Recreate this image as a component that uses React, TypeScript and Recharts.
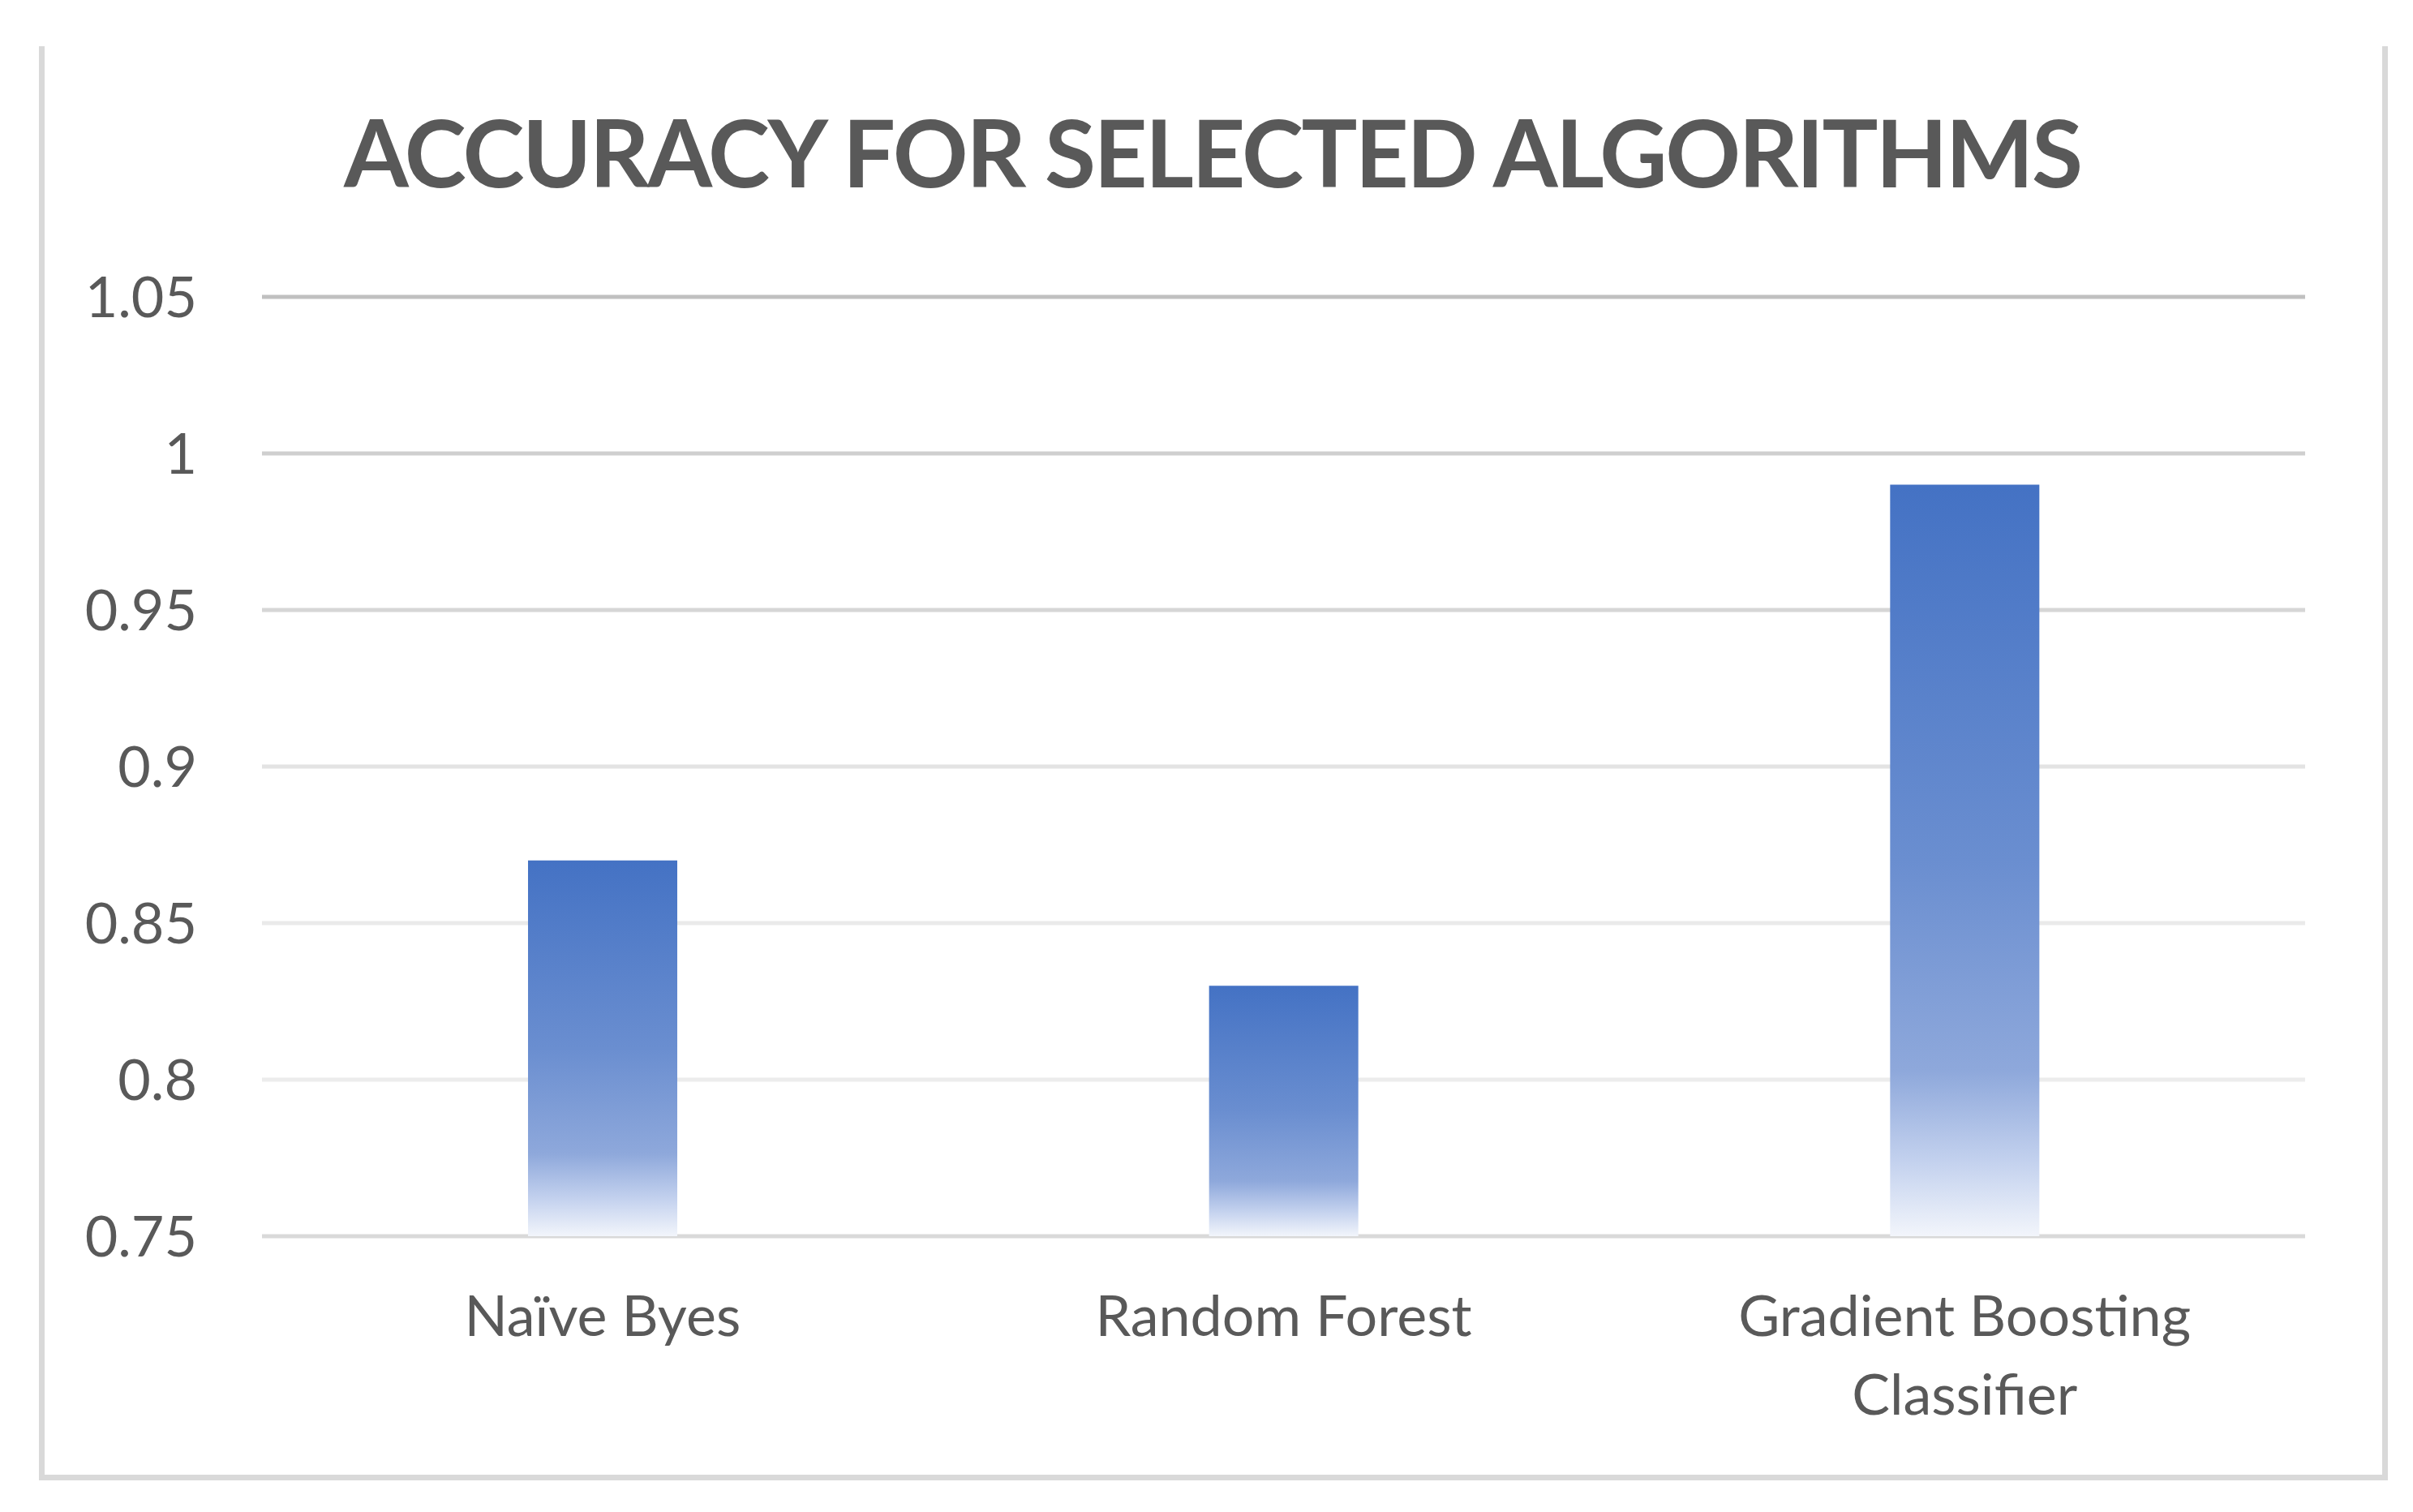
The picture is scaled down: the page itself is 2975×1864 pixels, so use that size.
import React from 'react';
import { BarChart, Bar, XAxis, YAxis, CartesianGrid } from 'recharts';

const categories = ['Naïve Byes', 'Random Forest', 'Gradient Boosting Classifier'];
const accuracy = [0.87, 0.83, 0.99];
const yTicks = [0.75, 0.8, 0.85, 0.9, 0.95, 1, 1.05];
// how the category labels break onto lines
const tickLines: Record<string, string[]> = {
    'Naïve Byes': ['Naïve Byes'],
    'Random Forest': ['Random Forest'],
    'Gradient Boosting Classifier': ['Gradient Boosting', 'Classifier'],
};

const data = categories.map((name, i) => ({ name, value: accuracy[i] }));

const FONT = 'Lato, "Open Sans", sans-serif';
const TEXT = '#595959';
// gridline tint, top to bottom (the scan fades the middle ones)
const GRID_COLORS = ['#c0c0c0', '#cfcfcf', '#d6d6d6', '#e3e3e3', '#eaeaea', '#ececec', '#d9d9d9'];

const W = 2975;
const H = 1864;

const GridLine = (props: any) => {
    const { x1, x2, y1, y, height } = props;
    const idx = Math.round(((y1 - y) / height) * (GRID_COLORS.length - 1));
    return <line x1={x1} x2={x2} y1={y1} y2={y1} stroke={GRID_COLORS[idx] ?? '#d9d9d9'} strokeWidth={5} />;
};

const CategoryTick = (props: any) => {
    const { x, y, payload } = props;
    const lines = tickLines[payload.value] ?? [payload.value];
    return (
        <text x={x} y={y + 123} textAnchor="middle" fill={TEXT} fontFamily={FONT} fontSize={70}>
            {lines.map((l, i) => (
                <tspan key={i} x={x} dy={i === 0 ? 0 : 97}>{l}</tspan>
            ))}
        </text>
    );
};

export default function App() {
    return (
        <div style={{ position: 'absolute', left: 0, top: 0, width: W, height: H, background: '#fff' }}>
            {/* chart frame: only left, right and bottom edges are in view */}
            <div
                style={{
                    position: 'absolute', left: 48, top: 57, width: 2896, height: 1768, boxSizing: 'border-box',
                    borderLeft: '7px solid #d9d9d9', borderRight: '7px solid #d9d9d9', borderBottom: '7px solid #d9d9d9',
                }}
            />
            <BarChart
                width={W}
                height={H}
                data={data}
                margin={{ top: 366, right: 133, bottom: 0, left: 0 }}
                style={{ position: 'absolute', left: 0, top: 0 }}
            >
                <defs>
                    <linearGradient id="barFill" x1="0" y1="0" x2="0" y2="1">
                        <stop offset="0" stopColor="#4472C4" />
                        <stop offset="0.5" stopColor="#6A8ED0" />
                        <stop offset="0.78" stopColor="#8EA8DB" />
                        <stop offset="0.9" stopColor="#C3D1EE" />
                        <stop offset="1" stopColor="#F2F5FB" />
                    </linearGradient>
                </defs>
                <CartesianGrid vertical={false} horizontal={GridLine} />
                <XAxis
                    dataKey="name"
                    height={340}
                    tickLine={false}
                    axisLine={false}
                    tickSize={0}
                    tickMargin={0}
                    tick={CategoryTick}
                    interval={0}
                />
                <YAxis
                    type="number"
                    domain={[0.75, 1.05]}
                    ticks={yTicks}
                    width={323}
                    tickLine={false}
                    axisLine={false}
                    tickSize={0}
                    tickMargin={80}
                    tick={{ fill: TEXT, fontFamily: FONT, fontSize: 70 }}
                />
                <Bar dataKey="value" fill="url(#barFill)" barSize={184} isAnimationActive={false} />
            </BarChart>
            <svg width={W} height={300} style={{ position: 'absolute', left: 0, top: 0, pointerEvents: 'none' }}>
                <text
                    x={1496}
                    y={231}
                    textAnchor="middle"
                    fill={TEXT}
                    fontFamily={FONT}
                    fontWeight={700}
                    fontSize={115}
                    textLength={2144}
                    lengthAdjust="spacing"
                >
                    ACCURACY FOR SELECTED ALGORITHMS
                </text>
            </svg>
        </div>
    );
}
